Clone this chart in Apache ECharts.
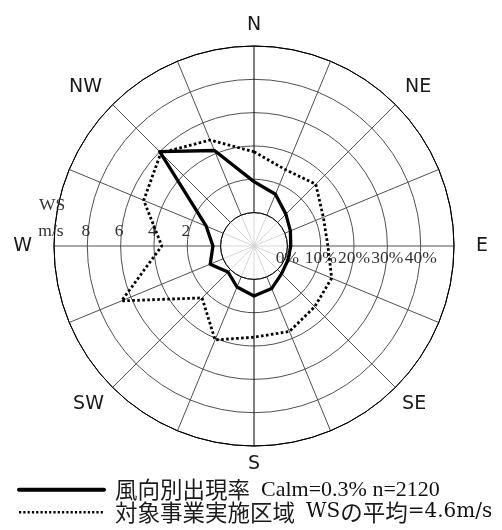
<!DOCTYPE html>
<html>
<head>
<meta charset="utf-8">
<script src="https://cdn.jsdelivr.net/npm/echarts@6/dist/echarts.min.js"></script>
<style>
  html, body { margin: 0; padding: 0; background: #fff; }
  #chart { width: 502px; height: 530px; }
</style>
</head>
<body>
<div id="chart"></div>
<script>
// 16 compass sectors, clockwise from north
const directions = ['N', 'NNE', 'NE', 'ENE', 'E', 'ESE', 'SE', 'SSE',
                    'S', 'SSW', 'SW', 'WSW', 'W', 'WNW', 'NW', 'NNW'];
// only the 8 principal points get a label
const principalDirections = ['N', 'NE', 'E', 'SE', 'S', 'SW', 'W', 'NW'];

// frequency of occurrence by direction (%)
const frequency = [9.3, 6.8, 3.5, 1.8, 1.0, 1.0, 1.7, 3.8,
                   5.0, 3.3, 1.0, 4.2, 2.3, 5.5, 30.0, 21.0];
// mean wind speed by direction (m/s)
const windSpeed = [3.65, 2.95, 3.24, 2.5, 2.43, 3.04, 3.15, 3.55,
                   3.47, 4.1, 2.4, 6.6, 3.53, 5.16, 5.9, 4.88];

// radial tick labels
const freqTicks = [0, 10, 20, 30, 40];
const freqTickLabels = ['0%', '10%', '20%', '30%', '40%'];
const wsTicks = [2, 4, 6, 8];
const wsTickLabels = ['2', '4', '6', '8'];
const wsUnitTick = 10;
const wsUnitLabel = 'm/s';
const wsAxisTitle = 'WS';

const freqSeriesName = '風向別出現率 Calm=0.3% n=2120';
const wsSeriesName = '対象事業実施区域 WSの平均=4.6m/s';

const CENTER = [254, 246];
const HUB = 33.4;
const OUTER = 200;
const SERIF = '"Liberation Serif", "Noto Sans CJK JP", serif';
const N_DIR = directions.length;

const chart = echarts.init(document.getElementById('chart'), null, { renderer: 'canvas' });

// [radius, sector position]; the last point repeats north one full turn later
function closedLoop(values) {
  const pts = directions.map((d, i) => [values[i], i]);
  pts.push([values[0], N_DIR]);
  return pts;
}

const hidden = {
  axisLine: { show: false }, axisTick: { show: false },
  axisLabel: { show: false }, splitLine: { show: false }
};
const angleBase = {
  type: 'category', data: directions, startAngle: 90,
  clockwise: true, boundaryGap: false
};
// continuous angle scale for the data polygons: one unit per sector, full turn
const sectorAngle = {
  type: 'value', min: 0, max: N_DIR, startAngle: 90, clockwise: true
};

const spokeColors = directions.map(d => (d === 'N' || d === 'S') ? '#000' : '#505050');
const ringColors = ['#6a6a6a', '#505050', '#505050', '#505050', '#505050', '#000'];

// per-label nudges so the compass letters sit evenly round the rim
const dirRich = {
  N:  { padding: [0, 0, 6, 0] },
  NE: { padding: [0, 0, 3, 4] },
  E:  { padding: [0, 0, 0, 14] },
  SE: { padding: [2, 0, 0, 1] },
  S:  { padding: [0, 0, 0, 0] },
  SW: { padding: [2, 3, 0, 0] },
  W:  { padding: [0, 14, 0, 0] },
  NW: { padding: [0, 5, 4, 0] }
};
Object.keys(dirRich).forEach(k => {
  Object.assign(dirRich[k], { fontFamily: '"DejaVu Sans", sans-serif', fontSize: 19, lineHeight: 20, color: '#1a1a1a' });
});

// legend text: CJK runs and Latin runs get their own fonts
function legendRich(name) {
  const latinKey = name === wsSeriesName ? 'm' : 'l';
  return name.replace(/([\u3000-\u9fff]+)|([^\u3000-\u9fff]+)/g, (all, cjk, latin) => {
    if (cjk) return '{j|' + cjk + '}';
    const lead = /^\s/.test(latin) ? '{g|}' : '';
    return lead + '{' + latinKey + '|' + latin.trim() + '}';
  });
}

chart.setOption({
  animation: false,
  backgroundColor: '#fff',
  polar: [
    { center: CENTER, radius: [0, HUB] },     // light hub spokes
    { center: CENTER, radius: [HUB, OUTER] }, // spokes + compass labels
    { center: CENTER, radius: [HUB, OUTER] }, // frequency polygon
    { center: CENTER, radius: [HUB, OUTER] }, // wind-speed polygon
    { center: CENTER, radius: [HUB, OUTER] }  // full concentric rings
  ],
  angleAxis: [
    Object.assign({}, angleBase, {
      polarIndex: 0,
      axisLine: { show: false }, axisTick: { show: false }, axisLabel: { show: false },
      splitLine: { show: true, interval: 0, lineStyle: { color: '#d6d6d6', width: 1 } }
    }),
    Object.assign({}, angleBase, {
      polarIndex: 1,
      axisLine: { show: false },
      axisTick: { show: false, interval: 0 },
      axisLabel: {
        show: true, interval: 0, margin: 8,
        formatter: v => principalDirections.includes(v) ? '{' + v + '|' + v + '}' : '',
        rich: dirRich
      },
      splitLine: { show: true, interval: 0, lineStyle: { color: spokeColors, width: 1 } }
    }),
    Object.assign({}, sectorAngle, hidden, { polarIndex: 2 }),
    Object.assign({}, sectorAngle, hidden, { polarIndex: 3 }),
    {
      polarIndex: 4, type: 'value', min: 0, max: 360, startAngle: 90, clockwise: true,
      axisLine: { show: true, lineStyle: { color: '#000', width: 1 } },
      axisTick: { show: false }, axisLabel: { show: false }, splitLine: { show: false }
    }
  ],
  radiusAxis: [
    Object.assign({ polarIndex: 0, type: 'value', min: 0, max: 1 }, hidden),
    Object.assign({ polarIndex: 1, type: 'value', min: 0, max: 1 }, hidden),
    Object.assign({ polarIndex: 2, type: 'value', min: 0, max: 50, interval: 10 }, hidden),
    Object.assign({ polarIndex: 3, type: 'value', min: 0, max: 10, interval: 2 }, hidden),
    {
      polarIndex: 4, type: 'value', min: 0, max: 50, interval: 10,
      axisLine: { show: false }, axisTick: { show: false }, axisLabel: { show: false },
      splitLine: { show: true, lineStyle: { color: ringColors, width: 1 } }
    }
  ],
  legend: {
    orient: 'vertical', left: 17, top: 478.5, padding: 0,
    itemWidth: 85, itemHeight: 10, itemGap: 0,
    selectedMode: false,
    formatter: legendRich,
    textStyle: {
      color: '#111', padding: [0, 0, 0, 6],
      rich: {
        j: { fontFamily: '"Noto Sans CJK JP", sans-serif', fontSize: 22.5, lineHeight: 25, color: '#1a1a1a' },
        g: { width: 11, lineHeight: 25 },
        l: { fontFamily: '"Liberation Serif", serif', fontSize: 22, lineHeight: 25, color: '#111' },
        m: { fontFamily: '"DejaVu Serif", serif', fontSize: 20, lineHeight: 25, color: '#111' }
      }
    },
    data: [
      { name: freqSeriesName, itemStyle: { opacity: 0 }, lineStyle: { width: 4, type: 'solid', color: '#000' } },
      { name: wsSeriesName, itemStyle: { opacity: 0 }, lineStyle: { width: 2.4, type: [2.2, 2.1], color: '#000' } }
    ]
  },
  series: [
    {
      type: 'line', name: freqSeriesName, coordinateSystem: 'polar', polarIndex: 2,
      data: closedLoop(frequency), symbol: 'none', silent: true, clip: false, z: 4,
      itemStyle: { color: '#000' },
      lineStyle: { color: '#000', width: 3.3, join: 'round', cap: 'round' }
    },
    {
      type: 'line', name: wsSeriesName, coordinateSystem: 'polar', polarIndex: 3,
      data: closedLoop(windSpeed), symbol: 'none', silent: true, clip: false, z: 3,
      itemStyle: { color: '#000' },
      lineStyle: { color: '#000', width: 2.8, type: [2.6, 2.4], cap: 'butt' }
    }
  ]
});

// radial scale labels placed through the polar coordinate systems
const graphics = [];
function addText(x, y, text) {
  graphics.push({
    type: 'text', x: x, y: y, z: 1, silent: true,
    style: {
      text: text, fontFamily: SERIF, fontSize: 17.5, fill: '#333',
      align: 'center', verticalAlign: 'middle',
      textAlign: 'center', textVerticalAlign: 'middle'
    }
  });
}
const east = directions.indexOf('E');
const west = directions.indexOf('W');
freqTicks.forEach((v, i) => {
  const p = chart.convertToPixel({ polarIndex: 2 }, [v, east]);
  addText(p[0], p[1] + 12, freqTickLabels[i]);
});
wsTicks.forEach((v, i) => {
  const p = chart.convertToPixel({ polarIndex: 3 }, [v, west]);
  addText(p[0] - 1.5, p[1] - 15, wsTickLabels[i]);
});
const pu = chart.convertToPixel({ polarIndex: 3 }, [wsUnitTick, west]);
addText(pu[0] - 3, pu[1] - 15, wsUnitLabel);
addText(pu[0] - 2, pu[1] - 41, wsAxisTitle);

chart.setOption({ graphic: graphics });
</script>
</body>
</html>
